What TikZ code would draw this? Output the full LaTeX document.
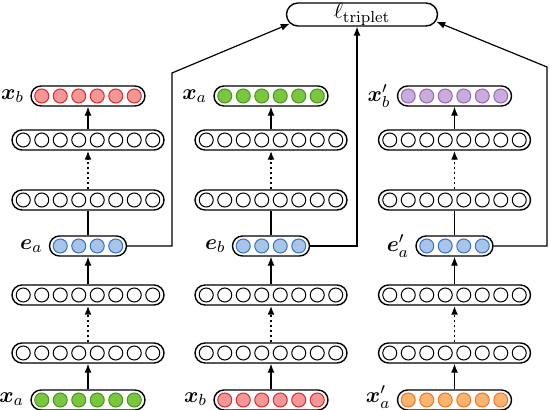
\documentclass[tikz,border=0pt]{standalone}
\usepackage{bm}
\usetikzlibrary{arrows.meta, calc}

\definecolor{redfill}{RGB}{247,150,150}
\definecolor{reddraw}{RGB}{215,45,45}
\definecolor{greenfill}{RGB}{122,198,62}
\definecolor{greendraw}{RGB}{72,150,30}
\definecolor{bluefill}{RGB}{168,196,234}
\definecolor{bluedraw}{RGB}{50,118,196}
\definecolor{purplefill}{RGB}{200,172,220}
\definecolor{purpledraw}{RGB}{150,102,190}
\definecolor{orangefill}{RGB}{250,180,110}
\definecolor{orangedraw}{RGB}{238,118,36}

% row of units inside a layer
\newcommand{\units}[3]{%
  \foreach \k in {1,...,#1}
    \draw[line width=0.5pt, fill=#2, draw=#3]
      ([xshift={(\k-(#1+1)/2)*9.25pt}]path picture bounding box.center)
      circle (3.5pt);}

\begin{document}
\begin{tikzpicture}[
        x=0.5pt, y=-0.5pt,
        font=\fontsize{11}{13}\selectfont,
        label distance=2pt,
        layer/.style={rectangle, draw, fill=white, rounded corners=5pt,
          minimum height=10pt, inner sep=0pt, line width=0.7pt},
        hidden/.style={layer, minimum width=76pt,
          path picture={\units{8}{white}{black}}},
        io/.style 2 args={layer, minimum width=57pt,
          path picture={\units{6}{#1}{#2}}},
        emb/.style={layer, minimum width=38.5pt,
          path picture={\units{4}{bluefill}{bluedraw}}},
        tag/.style={inner sep=1pt},
        lossbox/.style={rectangle, draw, rounded corners=5.75pt, minimum
          width=75.5pt, minimum height=11.5pt, inner sep=0pt, line width=0.7pt},
        line/.style={draw, -{Latex[length=4.5pt, width=3.5pt]}, line width=0.6pt},
        dottedline/.style={line, dash pattern=on 0.9pt off 1.6pt, line width=0.9pt},
        plain/.style={draw, line width=0.6pt}
      ]
      \useasboundingbox (0,0) rectangle (550,410);

      \node [lossbox] (loss) at (362,14.5) {$\ell_{\mathrm{triplet}}$};

      % anchor branch
      \node [io={greenfill}{greendraw}, label={[tag, yshift=0.5pt]left:$\bm{x}_a$}] (a_in) at (88,400) {};
      \node [hidden] (a_h1) at (88,353) {};
      \node [hidden] (a_h2) at (88,295) {};
      \node [emb, label={[tag]left:$\bm{e}_a$}] (a_emb) at (88,246) {};
      \node [hidden] (a_h3) at (88,200) {};
      \node [hidden] (a_h4) at (88,140) {};
      \node [io={redfill}{reddraw}, label={[tag]left:$\bm{x}_b$}] (a_out) at (88,96) {};

      % positive branch
      \node [io={redfill}{reddraw}, label={[tag, yshift=0.5pt]left:$\bm{x}_b$}] (b_in) at (271,400) {};
      \node [hidden] (b_h1) at (271,353) {};
      \node [hidden] (b_h2) at (271,295) {};
      \node [emb, label={[tag]left:$\bm{e}_b$}] (b_emb) at (271,246) {};
      \node [hidden] (b_h3) at (271,200) {};
      \node [hidden] (b_h4) at (271,140) {};
      \node [io={greenfill}{greendraw}, label={[tag]left:$\bm{x}_a$}] (b_out) at (271,96) {};

      % negative branch
      \node [io={orangefill}{orangedraw}, label={[tag, yshift=1.5pt]left:$\bm{x}'_a$}] (c_in) at (454.5,400) {};
      \node [hidden] (c_h1) at (454.5,353) {};
      \node [hidden] (c_h2) at (454.5,295) {};
      \node [emb, label={[tag]left:$\bm{e}'_a$}] (c_emb) at (454.5,246) {};
      \node [hidden] (c_h3) at (454.5,200) {};
      \node [hidden] (c_h4) at (454.5,140) {};
      \node [io={purplefill}{purpledraw}, label={[tag]left:$\bm{x}'_b$}] (c_out) at (454.5,96) {};

      \path [line] (a_in) -- (a_h1);
      \path [dottedline] (a_h1) -- (a_h2);
      \path [line] (a_h2) -- (a_emb);
      \path [plain] (a_emb) -- (a_h3);
      \path [dottedline] (a_h3) -- (a_h4);
      \path [line] (a_h4) -- (a_out);

      \path [line] (b_in) -- (b_h1);
      \path [dottedline] (b_h1) -- (b_h2);
      \path [line] (b_h2) -- (b_emb);
      \path [plain] (b_emb) -- (b_h3);
      \path [dottedline] (b_h3) -- (b_h4);
      \path [line] (b_h4) -- (b_out);

      \path [line] (c_in) -- (c_h1);
      \path [dottedline] (c_h1) -- (c_h2);
      \path [line] (c_h2) -- (c_emb);
      \path [plain] (c_emb) -- (c_h3);
      \path [dottedline] (c_h3) -- (c_h4);
      \path [line] (c_h4) -- (c_out);

      \coordinate (a_turn) at (172,73);
      \coordinate (c_turn) at (547,67);

      \path [line] (a_emb.east) -| (a_turn)
      -- ($(loss.south west)+(4,-3)$);
      \path [line] (b_emb.east) -| ($(loss.south)+(-5,0)$);
      \path [line] (c_emb.east) -| (c_turn)
      -- ($(loss.south east)+(-2,-5)$);

    \end{tikzpicture}
\end{document}
